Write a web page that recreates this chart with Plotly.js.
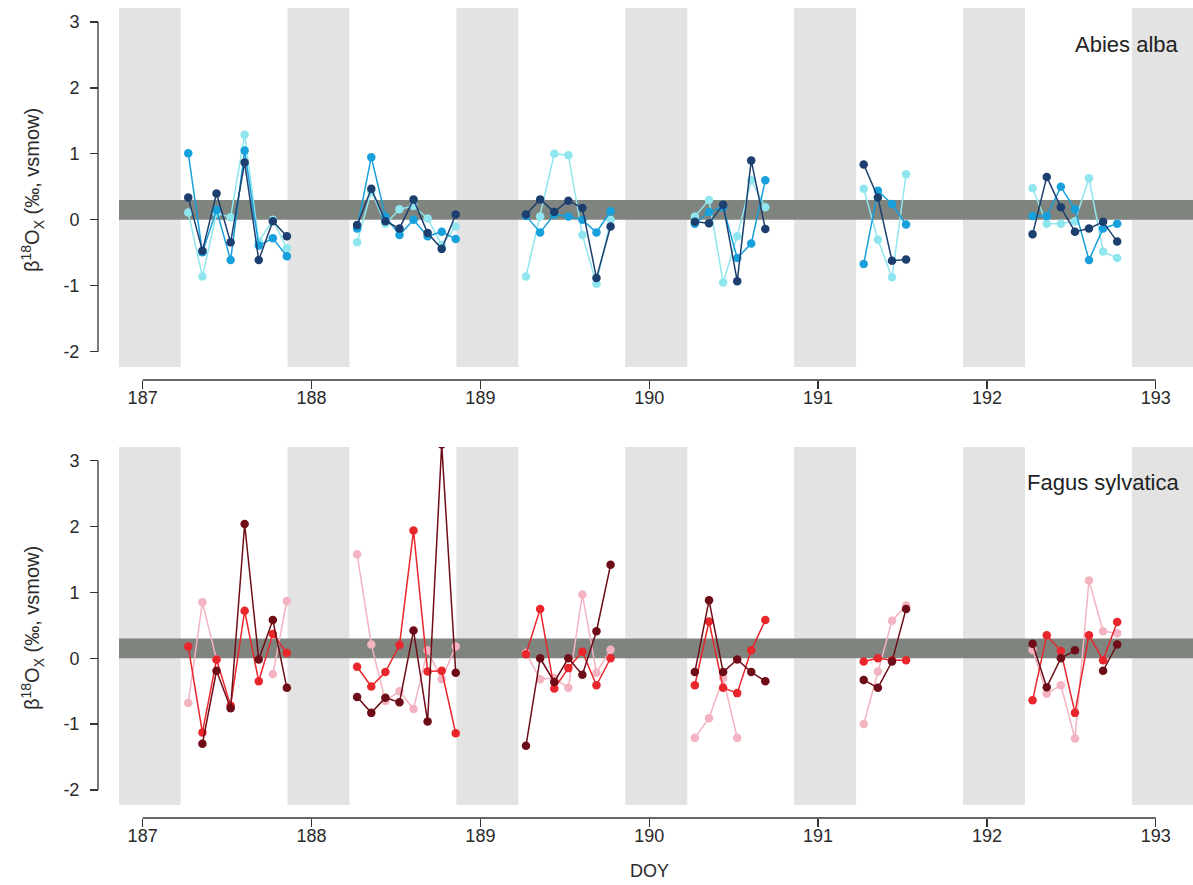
<!DOCTYPE html>
<html>
<head>
<meta charset="utf-8">
<script src="https://cdn.plot.ly/plotly-3.0.1.min.js"></script>
<style>
  html, body { margin: 0; padding: 0; background: #fff; }
  #chart { width: 1193px; height: 885px; }
</style>
</head>
<body>
<div id="chart"></div>
<script>
// Sampling times (day of year, fractional), one block per day; null separates days
const doy = [
  187.27, 187.354, 187.4375, 187.521, 187.604, 187.6875, 187.771, 187.854, null,
  188.27, 188.354, 188.4375, 188.521, 188.604, 188.6875, 188.771, 188.854, null,
  189.27, 189.354, 189.4375, 189.521, 189.604, 189.6875, 189.771, null,
  190.27, 190.354, 190.4375, 190.521, 190.604, 190.6875, null,
  191.27, 191.354, 191.4375, 191.521, null,
  192.27, 192.354, 192.4375, 192.521, 192.604, 192.6875, 192.771
];

// Abies alba, three trees
const abiesDark = [
  0.34, -0.47, 0.40, -0.34, 0.87, -0.61, -0.02, -0.25, null,
  -0.08, 0.47, -0.02, -0.13, 0.31, -0.20, -0.44, 0.08, null,
  0.08, 0.31, 0.12, 0.29, 0.18, -0.88, -0.10, null,
  -0.03, -0.05, 0.23, -0.93, 0.90, -0.14, null,
  0.84, 0.34, -0.62, -0.60, null,
  -0.22, 0.65, 0.19, -0.18, -0.13, -0.03, -0.33
];
const abiesMid = [
  1.01, -0.49, 0.15, -0.61, 1.05, -0.39, -0.28, -0.55, null,
  -0.13, 0.95, 0.05, -0.23, 0.00, -0.25, -0.18, -0.29, null,
  0.06, -0.19, 0.08, 0.05, 0.00, -0.19, 0.13, null,
  -0.06, 0.12, 0.19, -0.58, -0.36, 0.60, null,
  -0.67, 0.44, 0.24, -0.07, null,
  0.06, 0.06, 0.50, 0.16, -0.61, -0.13, -0.06
];
const abiesLight = [
  0.11, -0.86, 0.10, 0.04, 1.29, -0.33, 0.00, -0.43, null,
  -0.34, 0.43, -0.06, 0.16, 0.21, 0.02, -0.38, -0.10, null,
  -0.86, 0.05, 1.00, 0.98, -0.23, -0.97, 0.00, null,
  0.05, 0.30, -0.95, -0.25, 0.60, 0.19, null,
  0.47, -0.30, -0.87, 0.69, null,
  0.48, -0.06, -0.06, -0.02, 0.63, -0.48, -0.58
];

// Fagus sylvatica, three trees
const fagusDark = [
  null, -1.30, -0.19, -0.76, 2.04, -0.02, 0.58, -0.45, null,
  -0.59, -0.83, -0.60, -0.67, 0.42, -0.96, 3.25, -0.22, null,
  -1.33, 0.00, -0.36, 0.00, -0.25, 0.41, 1.42, null,
  -0.21, 0.88, -0.21, -0.02, -0.21, -0.35, null,
  -0.33, -0.45, -0.05, 0.75, null,
  0.22, -0.44, 0.00, 0.12, null, -0.19, 0.21
];
const fagusMid = [
  0.18, -1.13, -0.02, -0.72, 0.72, -0.35, 0.37, 0.08, null,
  -0.13, -0.43, -0.21, 0.20, 1.94, -0.20, -0.19, -1.14, null,
  0.06, 0.75, -0.46, -0.15, 0.10, -0.41, 0.00, null,
  -0.41, 0.56, -0.45, -0.53, 0.12, 0.58, null,
  -0.05, 0.00, -0.03, -0.03, null,
  -0.64, 0.35, 0.11, -0.83, 0.35, -0.03, 0.55
];
const fagusLight = [
  -0.68, 0.85, -0.02, null, null, null, -0.24, 0.87, null,
  1.58, 0.21, -0.65, -0.50, -0.77, 0.12, -0.32, 0.18, null,
  0.08, -0.32, -0.30, -0.45, 0.97, -0.22, 0.13, null,
  -1.21, -0.91, -0.30, -1.21, null, null, null,
  -1.00, -0.20, 0.57, 0.80, null,
  0.13, -0.54, -0.41, -1.22, 1.18, 0.41, 0.38
];

// Night periods (DOY) drawn as grey columns
const nights = [
  [186.858, 187.225], [187.858, 188.225], [188.858, 189.225],
  [189.858, 190.225], [190.858, 191.225], [191.858, 192.225], [192.858, 193.225]
];
// Reference band of the source water
const refBand = [0, 0.30];

const xTicks = [187, 188, 189, 190, 191, 192, 193];
const yTicks = [-2, -1, 0, 1, 2, 3];

const abiesColors = ['#1d3f70', '#17a0db', '#90e6ee'];
const fagusColors = ['#6e0c17', '#e8262c', '#f3b3c0'];

function series(y, color, xa, ya) {
  return {
    x: doy, y: y, xaxis: xa, yaxis: ya,
    type: 'scatter', mode: 'lines+markers', connectgaps: false,
    line: { color: color, width: 1.5 },
    marker: { color: color, size: 8.5 },
    cliponaxis: true, hoverinfo: 'x+y', showlegend: false
  };
}

const traces = [
  series(abiesLight, abiesColors[2], 'x', 'y'),
  series(abiesMid, abiesColors[1], 'x', 'y'),
  series(abiesDark, abiesColors[0], 'x', 'y'),
  series(fagusLight, fagusColors[2], 'x2', 'y2'),
  series(fagusMid, fagusColors[1], 'x2', 'y2'),
  series(fagusDark, fagusColors[0], 'x2', 'y2')
];

const W = 1193, H = 885;
const plotLeft = 119 / W;
const yAxisPos = 98 / W;
const topDom = [1 - 367 / H, 1 - 8 / H];
const botDom = [1 - 805 / H, 1 - 447 / H];
const topXPos = 1 - 380 / H;
const botXPos = 1 - 818 / H;

const fam = 'Liberation Sans, Arial, sans-serif';
const tickFont = { family: fam, size: 18, color: '#2a2a2a' };

function xAxis(pos) {
  return {
    domain: [plotLeft, 1], range: [186.86, 193.22], anchor: 'free', position: pos,
    tickvals: xTicks, ticktext: xTicks.map(String), ticks: 'outside', ticklen: 8,
    ticklabelstandoff: -7,
    tickwidth: 1.3, tickcolor: '#333', showline: false, showgrid: false, zeroline: false,
    tickfont: tickFont, fixedrange: true
  };
}
function yAxis(dom) {
  return {
    domain: dom, range: [-2.23, 3.21], anchor: 'free', position: yAxisPos,
    tickvals: yTicks, ticktext: yTicks.map(String), ticks: 'outside', ticklen: 8,
    ticklabelstandoff: 7,
    tickwidth: 1.3, tickcolor: '#333', showline: false, showgrid: false, zeroline: false,
    tickfont: tickFont, fixedrange: true
  };
}

const shapes = [];
[['x', 'y'], ['x2', 'y2']].forEach(([xa, ya]) => {
  nights.forEach(([a, b]) => shapes.push({
    type: 'rect', layer: 'below', xref: xa, yref: ya + ' domain',
    x0: a, x1: b, y0: 0, y1: 1, fillcolor: '#e3e3e3', line: { width: 0 }
  }));
  shapes.push({
    type: 'rect', layer: 'below', xref: xa + ' domain', yref: ya,
    x0: 0, x1: 1, y0: refBand[0], y1: refBand[1], fillcolor: '#7f857e', line: { width: 0 }
  });
});
// R-style axis lines spanning only the tick range
[['x', 'y', topXPos], ['x2', 'y2', botXPos]].forEach(([xa, ya, xp]) => {
  shapes.push({ type: 'line', xref: 'paper', yref: ya, x0: yAxisPos, x1: yAxisPos,
    y0: yTicks[0], y1: yTicks[yTicks.length - 1], line: { color: '#333', width: 1.3 } });
  shapes.push({ type: 'line', xref: xa, yref: 'paper', x0: xTicks[0], x1: xTicks[xTicks.length - 1],
    y0: xp, y1: xp, line: { color: '#333', width: 1.3 } });
});

const yTitle = 'β<sup>18</sup>O<sub>X</sub> (‰, vsmow)';
const labFont = { family: fam, size: 20, color: '#2a2a2a' };
const annotations = [
  { text: 'Abies alba', xref: 'paper', yref: 'paper', x: 1181 / W, y: 1 - 45 / H,
    xanchor: 'right', yanchor: 'middle', showarrow: false,
    font: { family: fam, size: 22, color: '#222' } },
  { text: 'Fagus sylvatica', xref: 'paper', yref: 'paper', x: 1181 / W, y: 1 - 482 / H,
    xanchor: 'right', yanchor: 'middle', showarrow: false,
    font: { family: fam, size: 22, color: '#222' } },
  { text: yTitle, xref: 'paper', yref: 'paper', x: 32 / W, y: 1 - 190 / H,
    textangle: -90, xanchor: 'center', yanchor: 'middle', showarrow: false, font: labFont },
  { text: yTitle, xref: 'paper', yref: 'paper', x: 32 / W, y: 1 - 628 / H,
    textangle: -90, xanchor: 'center', yanchor: 'middle', showarrow: false, font: labFont },
  { text: 'DOY', xref: 'paper', yref: 'paper', x: 650 / W, y: 1 - 871 / H,
    xanchor: 'center', yanchor: 'middle', showarrow: false, font: { family: fam, size: 18, color: '#2a2a2a' } }
];

const layout = {
  width: W, height: H,
  margin: { l: 0, r: 0, t: 0, b: 0 },
  paper_bgcolor: '#fff', plot_bgcolor: '#fff',
  showlegend: false,
  xaxis: xAxis(topXPos),
  yaxis: yAxis(topDom),
  xaxis2: xAxis(botXPos),
  yaxis2: yAxis(botDom),
  shapes: shapes,
  annotations: annotations
};

Plotly.newPlot('chart', traces, layout, { staticPlot: true, displayModeBar: false });
</script>
</body>
</html>
